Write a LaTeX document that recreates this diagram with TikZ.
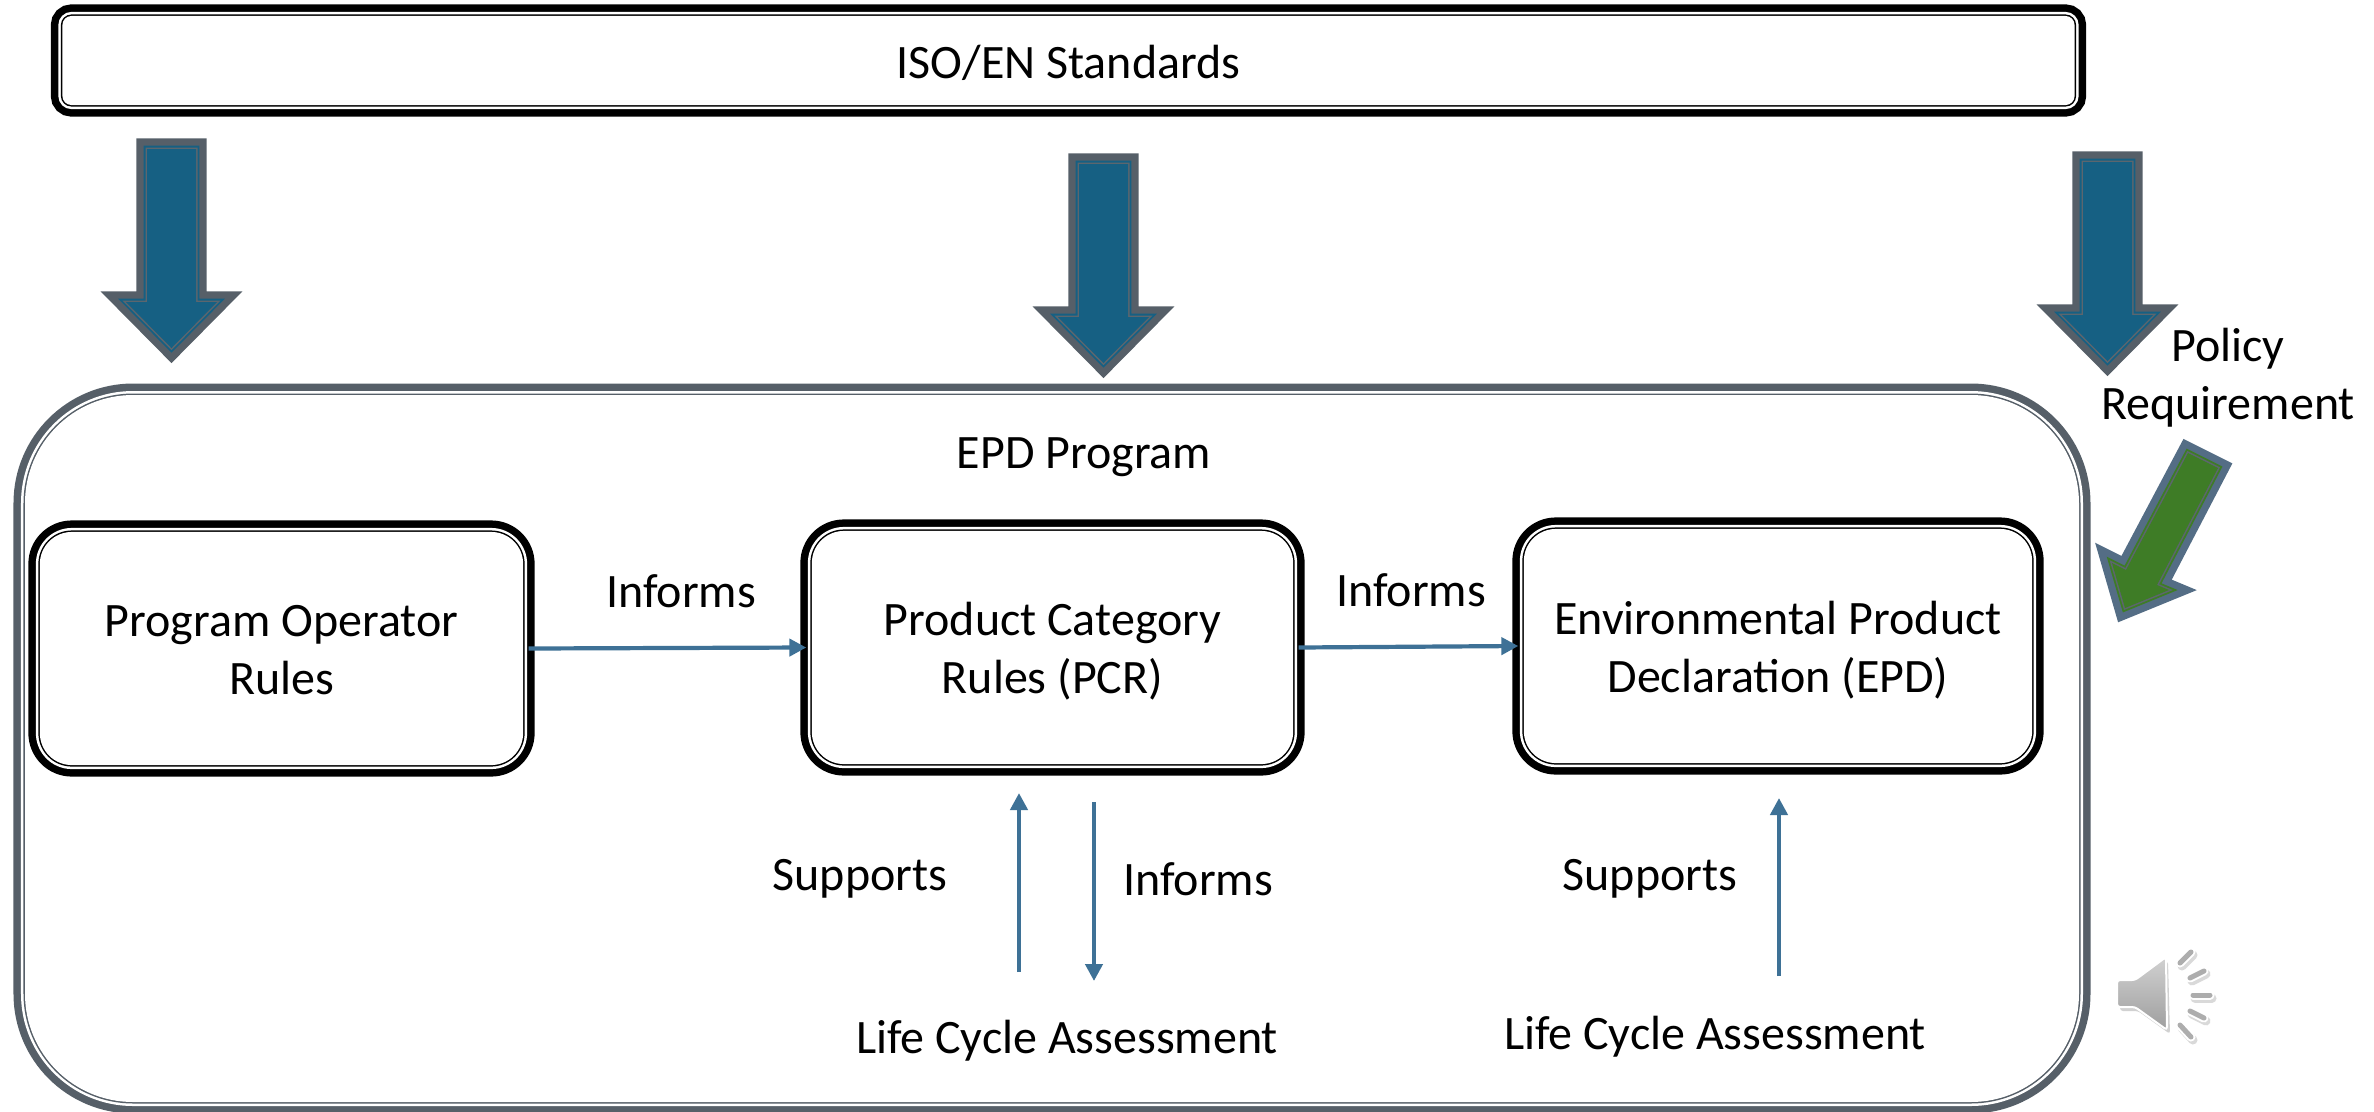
\documentclass[tikz,border=0pt]{standalone}
\usepackage{fontspec}
\setmainfont{Carlito}
\usetikzlibrary{arrows.meta}
\definecolor{arrowgrey}{HTML}{565F68}
\definecolor{arrowthin}{HTML}{5C666E}
\definecolor{arrowblue}{HTML}{166083}
\definecolor{arrowgreen}{HTML}{3E7C26}
\definecolor{arrowslate}{HTML}{546D85}
\definecolor{linkblue}{HTML}{3E7196}
\tikzset{
	mainbox/.style={rectangle, inner sep=0, outer sep=0.055cm, align=center, fill=white,
		preaction={draw=black, line width=0.23cm},
		preaction={draw=white, line width=0.08cm},
		preaction={draw=black, line width=0.03cm}},
	programbox/.style={preaction={draw=arrowgrey, line width=0.23cm},
		preaction={draw=white, line width=0.08cm},
		preaction={draw=arrowgrey, line width=0.03cm}, fill=white},
	bluearrow/.style={fill=arrowblue,
		preaction={draw=arrowgrey, line width=0.212cm},
		preaction={draw=arrowblue, line width=0.066cm},
		preaction={draw=arrowthin, line width=0.03cm}},
	greenarrow/.style={fill=arrowgreen,
		preaction={draw=arrowslate, line width=0.212cm},
		preaction={draw=arrowgreen, line width=0.066cm},
		preaction={draw=arrowthin, line width=0.03cm}},
	link/.style={draw=linkblue, line width=0.042cm, -{Triangle[length=0.17cm,width=0.17cm]}},
	lbl/.style={inner sep=0, align=center}
}
\def\stdarrow(#1,#2){\fill[bluearrow, shift={(#1,#2)}] (147,149) -- (196,149) -- (196,302) -- (217,302) -- (171.5,348) -- (126,302) -- (147,302) -- cycle;}

\begin{document}
\begin{tikzpicture}[x=0.01cm, y=-0.01cm, font=\fontsize{13.65}{16.4}\selectfont]
	%%%%% START %%%%%
	\useasboundingbox (0, 0) rectangle (2374, 1111);
	
	\fill[programbox, rounded corners=1.08cm] (25, 395) rectangle (2079, 1102);
	
	\node[mainbox, rounded corners=0.09cm, minimum width=20.11cm, minimum height=0.89cm] (standards) at (1068.5, 60.5) {\rule{0pt}{10.9pt}ISO/EN Standards};
	
	\stdarrow(0,0)
	\stdarrow(932,15)
	\stdarrow(1936,13)
	
	\fill[greenarrow] (2188, 453) -- (2218, 468) -- (2157, 585) -- (2169, 590) -- (2125, 608) -- (2112, 563) -- (2126, 570) -- cycle;
	
	\node[lbl] (policy) at (2228, 378) {Policy\\Requirement};
	\node[lbl] (program) at (1084, 457) {EPD Program};
	
	\node[mainbox, rounded corners=0.32cm, minimum width=4.83cm, minimum height=2.33cm] (operator) at (281.5, 648.5) {\rule{0pt}{9.9pt}Program Operator\\Rules};
	\node[mainbox, rounded corners=0.32cm, minimum width=4.81cm, minimum height=2.33cm] (pcr) at (1052.5, 647.5) {\rule{0pt}{11.7pt}Product Category\\Rules (PCR)};
	\node[mainbox, rounded corners=0.32cm, minimum width=5.08cm, minimum height=2.34cm] (epd) at (1778, 646) {\rule{0pt}{11.7pt}Environmental Product\\Declaration (EPD)};
	
	\node[lbl] (informsa) at (681, 591) {Informs};
	\node[lbl] (informsb) at (1411, 590) {Informs};
	\node[lbl] (informsc) at (1198, 879) {Informs};
	\node[lbl] (supportsa) at (860, 879) {Supports};
	\node[lbl] (supportsb) at (1650, 879) {Supports};
	\node[lbl] (lcaa) at (1067, 1041) {Life Cycle Assessment};
	\node[lbl] (lcab) at (1715, 1037) {Life Cycle Assessment};
	
	\draw[link] (operator.east) -- (pcr.west);
	\draw[link] (pcr.east) -- (epd.west);
	
	\coordinate (upa) at (1019, 972);
	\coordinate (upatop) at (1019, 793);
	\coordinate (downa) at (1094, 802);
	\coordinate (downabot) at (1094, 981);
	\coordinate (upb) at (1779, 976);
	\coordinate (upbtop) at (1779, 798);
	\draw[link] (upa) -- (upatop);
	\draw[link] (downa) -- (downabot);
	\draw[link] (upb) -- (upbtop);
	
	% speaker
	\fill[black!18, rounded corners=0.03cm] (2120, 984) -- (2138, 984) -- (2168, 961) -- (2170, 1034) -- (2138, 1011) -- (2120, 1011) -- cycle;
	\draw[draw=white, line width=0.02cm, rounded corners=0.03cm, top color=black!18, bottom color=black!38] (2117, 980) -- (2135, 980) -- (2166, 957) -- (2167, 1030) -- (2135, 1007) -- (2117, 1007) -- cycle;
	\foreach \xa/\ya/\xb/\yb in {2180/963/2191/952, 2190/978/2204/971, 2193/995/2210/995, 2190/1011/2204/1018, 2180/1025/2191/1037}{
		\draw[black!15, line width=0.09cm, line cap=round] (\xa+2, \ya+3) -- (\xb+2, \yb+3);
		\draw[white, line width=0.09cm, line cap=round] (\xa, \ya) -- (\xb, \yb);
		\draw[black!32, line width=0.05cm, line cap=round] (\xa, \ya) -- (\xb, \yb);
	}
	
	%%%%% END %%%%%
\end{tikzpicture}
\end{document}
